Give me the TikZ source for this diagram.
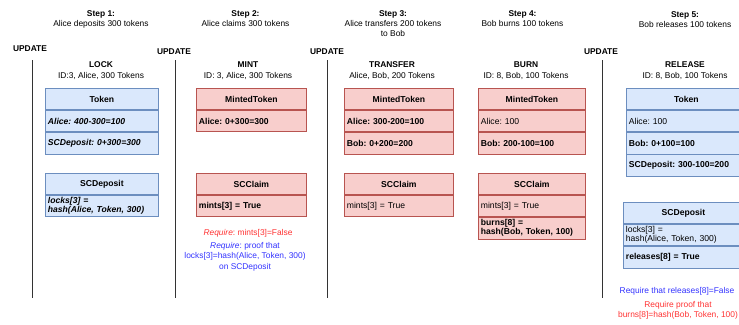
\documentclass[tikz,border=0pt]{standalone}
\usepackage{fontspec}
\setmainfont{Liberation Sans}
\definecolor{bfill}{HTML}{DAE8FC}
\definecolor{bline}{HTML}{6C8EBF}
\definecolor{rfill}{HTML}{F8CECC}
\definecolor{rline}{HTML}{B85450}
\definecolor{reqred}{HTML}{FF3333}
\definecolor{reqblue}{HTML}{3333FF}
\definecolor{sepc}{HTML}{333333}
\begin{document}
\frenchspacing
\begin{tikzpicture}[x=1pt,y=-1pt,
 txt/.style={font=\fontsize{8.4}{10}\selectfont\frenchspacing, align=center, inner sep=0pt},
 optxt/.style={font=\fontsize{8.4}{11}\selectfont\frenchspacing, align=center, inner sep=0pt},
 reqtxt/.style={font=\fontsize{8.4}{10.5}\selectfont\frenchspacing, align=center, inner sep=0pt},
 ttl/.style={font=\fontsize{8.4}{10}\selectfont\bfseries, inner sep=0pt},
 cell/.style={draw, line width=0.8pt, anchor=north west, minimum height=21.3pt, inner xsep=2.5pt, inner ysep=0pt, align=left, font=\fontsize{8.6}{9}\selectfont\frenchspacing},
 head/.style={cell, align=center, font=\fontsize{8.6}{9}\selectfont\bfseries},
 bo/.style={font=\fontsize{8.6}{9}\selectfont\bfseries\frenchspacing},
 bi/.style={font=\fontsize{8.6}{9}\selectfont\bfseries\itshape\frenchspacing},
 bluec/.style={fill=bfill, draw=bline},
 redc/.style={fill=rfill, draw=rline},
 tw/.style={text width=#1},
 sepline/.style={draw=sepc, line width=0.9pt},
]
\useasboundingbox (0,0) rectangle (739,324);
\fill[white] (0,0) rectangle (739,324);
\clip (0,0) rectangle (739,324);

% step headers
\node[txt] (s1) at (101,19) {\textbf{Step 1:}\\Alice deposits 300 tokens};
\node[txt] (s2) at (245.5,19) {\textbf{Step 2:}\\Alice claims 300 tokens};
\node[txt] (s3) at (393,24) {\textbf{Step 3:}\\Alice transfers 200 tokens\\to Bob};
\node[txt] (s4) at (522.5,18.5) {\textbf{Step 4:}\\Bob burns 100 tokens};
\node[txt] (s5) at (685,20) {\textbf{Step 5:}\\Bob releases 100 tokens};

% update labels
\node[ttl] (u1) at (30,49) {UPDATE};
\node[ttl] (u2) at (174,52) {UPDATE};
\node[ttl] (u3) at (327,52) {UPDATE};
\node[ttl] (u4) at (601,52) {UPDATE};

% separators
\coordinate (v1t) at (32,60); \coordinate (v1b) at (32,298);
\coordinate (v2t) at (175,60); \coordinate (v2b) at (175,298);
\coordinate (v3t) at (327,60); \coordinate (v3b) at (327,298);
\coordinate (v4t) at (602,60); \coordinate (v4b) at (602,298);
\draw[sepline] (v1t) -- (v1b);
\draw[sepline] (v2t) -- (v2b);
\draw[sepline] (v3t) -- (v3b);
\draw[sepline] (v4t) -- (v4b);

% operation titles
\node[optxt] (o1) at (101,70.5) {\textbf{LOCK}\\ID:3, Alice, 300 Tokens};
\node[optxt] (o2) at (248,70.5) {\textbf{MINT}\\ID: 3, Alice, 300 Tokens};
\node[optxt] (o3) at (392,70.5) {\textbf{TRANSFER}\\Alice, Bob, 200 Tokens};
\node[optxt] (o4) at (526,70.5) {\textbf{BURN}\\ID: 8, Bob, 100 Tokens};
\node[optxt] (o5) at (685,70.5) {\textbf{RELEASE}\\ID: 8, Bob, 100 Tokens};

% step 1 boxes
\node[head,bluec,tw=108] (b1h) at (45,88) {Token};
\node[cell,bluec,tw=108,bi] (b1r1) at (b1h.south west) {Alice: 400-300=100};
\node[cell,bluec,tw=108,bi] (b1r2) at (b1r1.south west) {SCDeposit: 0+300=300};
\node[head,bluec,tw=108] (d1h) at (45,173) {SCDeposit};
\node[cell,bluec,tw=108,bi] (d1r1) at (d1h.south west) {locks[3] =\\hash(Alice, Token, 300)};

% step 2 boxes
\node[head,redc,tw=105] (b2h) at (196,88) {MintedToken};
\node[cell,redc,tw=105,bo] (b2r1) at (b2h.south west) {Alice: 0+300=300};
\node[head,redc,tw=105] (c2h) at (196,173) {SCClaim};
\node[cell,redc,tw=105,bo] (c2r1) at (c2h.south west) {mints[3] = True};
\node[reqtxt, text=reqred] (q2a) at (248,233) {\textit{Require}: mints[3]=False};
\node[reqtxt, text=reqblue] (q2b) at (245,256.5) {\textit{Require}: proof that\\locks[3]=hash(Alice, Token, 300)\\on SCDeposit};

% step 3 boxes
\node[head,redc,tw=104] (b3h) at (344,88) {MintedToken};
\node[cell,redc,tw=104,bo] (b3r1) at (b3h.south west) {Alice: 300-200=100};
\node[cell,redc,tw=104,bo] (b3r2) at (b3r1.south west) {Bob: 0+200=200};
\node[head,redc,tw=104] (c3h) at (344,173) {SCClaim};
\node[cell,redc,tw=104] (c3r1) at (c3h.south west) {mints[3] = True};

% step 4 boxes
\node[head,redc,tw=102] (b4h) at (478,88) {MintedToken};
\node[cell,redc,tw=102] (b4r1) at (b4h.south west) {Alice: 100};
\node[cell,redc,tw=102,bo] (b4r2) at (b4r1.south west) {Bob: 200-100=100};
\node[head,redc,tw=102] (c4h) at (478,173) {SCClaim};
\node[cell,redc,tw=102] (c4r1) at (c4h.south west) {mints[3] = True};
\node[cell,redc,tw=102,bo] (c4r2) at (c4r1.south west) {burns[8] =\\hash(Bob, Token, 100)};

% step 5 boxes
\node[head,bluec,tw=115] (b5h) at (626,88) {Token};
\node[cell,bluec,tw=115] (b5r1) at (b5h.south west) {Alice: 100};
\node[cell,bluec,tw=115,bo] (b5r2) at (b5r1.south west) {Bob: 0+100=100};
\node[cell,bluec,tw=115,bo] (b5r3) at (b5r2.south west) {SCDeposit: 300-100=200};
\node[head,bluec,tw=115] (d5h) at (623,202) {SCDeposit};
\node[cell,bluec,tw=115] (d5r1) at (d5h.south west) {locks[3] =\\hash(Alice, Token, 300)};
\node[cell,bluec,tw=115,bo] (d5r2) at (d5r1.south west) {releases[8] = True};
\node[reqtxt, text=reqblue] (q5a) at (677,291) {Require that releases[8]=False};
\node[reqtxt, text=reqred] (q5b) at (678,310.5) {Require proof that\\burns[8]=hash(Bob, Token, 100)};
\end{tikzpicture}
\end{document}
